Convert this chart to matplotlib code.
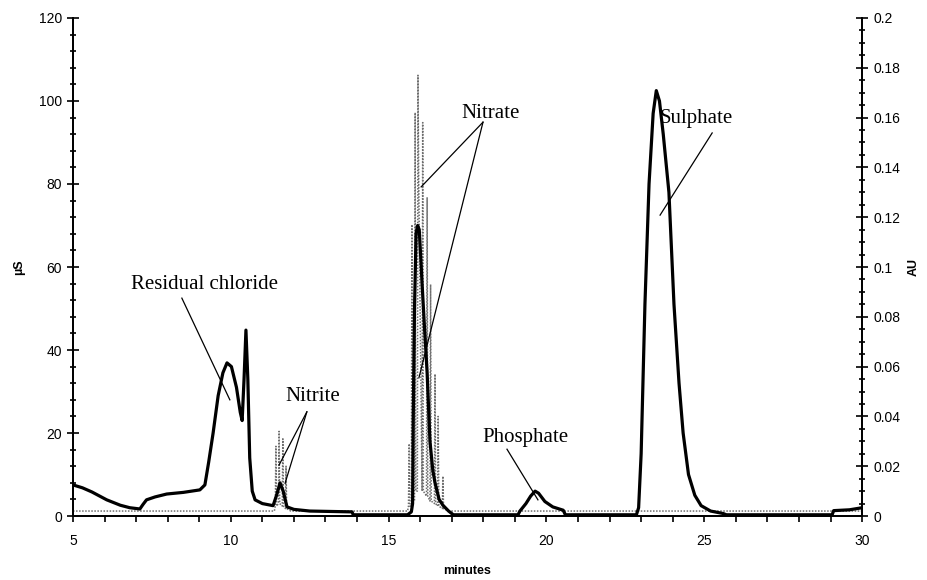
import matplotlib
matplotlib.use("Agg")
import matplotlib.pyplot as plt
from matplotlib.ticker import MultipleLocator, FuncFormatter

# conductivity trace (uS)
cond_t = [5.0, 5.3, 5.6, 6.07, 6.5, 6.8, 7.12, 7.22, 7.33, 7.6, 7.97, 8.5, 9.02,
          9.18, 9.3, 9.44, 9.6, 9.75, 9.88, 10.02, 10.18, 10.3, 10.36, 10.42,
          10.48, 10.54, 10.6, 10.68, 10.77, 11.0, 11.34, 11.45, 11.56, 11.66,
          11.78, 12.0, 12.5, 13.84, 13.88, 15.6, 15.72, 15.76, 15.78, 15.82,
          15.87, 15.92, 15.97, 16.02, 16.06, 16.14, 16.22, 16.31, 16.4, 16.47,
          16.6, 16.72, 16.9, 17.05, 19.1, 19.16, 19.35, 19.5, 19.64, 19.75,
          19.95, 20.2, 20.53, 20.6, 22.85, 22.92, 23.0, 23.12, 23.25, 23.38,
          23.48, 23.58, 23.7, 23.88, 24.04, 24.2, 24.33, 24.5, 24.7, 24.9,
          25.2, 25.6, 25.7, 29.05, 29.1, 29.6, 30.0]
cond_v = [7.5, 6.8, 5.8, 3.9, 2.6, 2.0, 1.7, 2.8, 3.9, 4.6, 5.3, 5.7, 6.3,
          7.5, 13, 20, 29, 34.5, 36.9, 36, 31, 25, 23, 33,
          44.8, 33, 14, 6, 3.9, 3.0, 2.5, 5, 8, 6,
          2.2, 1.6, 1.2, 1.0, 0.3, 0.3, 1, 3, 23, 50,
          68, 70, 69, 62, 56, 45, 34.5, 18, 11, 8,
          4, 2.6, 1.2, 0.3, 0.3, 1.2, 3, 4.8, 6, 5.5,
          3.5, 2.2, 1.4, 0.3, 0.3, 2, 15, 51, 80, 97,
          102.5, 100, 92, 78, 51, 32, 20, 10, 5, 2.5,
          1.2, 0.6, 0.3, 0.3, 1.3, 1.5, 2.0]

# UV trace (AU), dotted
uv_t = [5.0, 11.38, 11.41, 11.43, 11.45, 11.51, 11.53, 11.55, 11.63, 11.65,
        11.67, 11.73, 11.75, 11.77, 11.9, 15.6, 15.63, 15.65, 15.67, 15.72,
        15.74, 15.76, 15.82, 15.84, 15.86, 15.91, 15.93, 15.95, 16.06, 16.08,
        16.1, 16.2, 16.22, 16.24, 16.31, 16.33, 16.35, 16.45, 16.47, 16.49,
        16.55, 16.57, 16.59, 16.7, 16.72, 16.74, 16.9, 30.0]
uv_v = [0.002, 0.002, 0.004, 0.028, 0.004, 0.005, 0.034, 0.005, 0.004, 0.031,
        0.004, 0.003, 0.020, 0.003, 0.002, 0.002, 0.004, 0.029, 0.004, 0.004,
        0.117, 0.006, 0.006, 0.162, 0.01, 0.01, 0.177, 0.14, 0.01, 0.158,
        0.01, 0.008, 0.128, 0.008, 0.006, 0.093, 0.006, 0.005, 0.057, 0.005,
        0.004, 0.040, 0.004, 0.003, 0.016, 0.003, 0.002, 0.002]

# peak labels: text, text centre (min, uS), leader start, leader ends
labels = ["Residual chloride", "Nitrite", "Nitrate", "Phosphate", "Sulphate"]
label_pos = [(9.18, 55.7), (12.6, 28.7), (18.24, 97.1), (19.32, 19.0), (24.74, 95.9)]
leader_start = [(8.45, 52.5), (12.41, 25.1), (17.99, 94.9), (18.75, 16.1), (25.25, 92.3)]
leader_ends = [[(9.97, 28.0)],
               [(11.53, 12.3), (11.72, 7.9)],
               [(16.03, 79.3), (15.96, 33.3)],
               [(19.73, 3.9)],
               [(23.6, 72.5)]]

serif = "Liberation Serif"
sans = "Liberation Sans"

fig = plt.figure(figsize=(9.27, 5.8), dpi=100)
ax = fig.add_axes([0.0787, 0.1103, 0.8513, 0.8587])
ax2 = ax.twinx()

ax2.plot(uv_t, uv_v, color="#6e6e6e", linestyle=(0, (1, 1)), linewidth=1.1)
ax.plot(cond_t, cond_v, color="black", linewidth=2.3, zorder=5)
ax.set_zorder(ax2.get_zorder() + 1)
ax.patch.set_visible(False)

ax.set_xlim(5, 30)
ax.set_ylim(0, 120)
ax2.set_ylim(0, 0.2)

for a in (ax, ax2):
    a.spines["top"].set_visible(False)
    for s in a.spines.values():
        s.set_linewidth(1.3)

ax.xaxis.set_major_locator(MultipleLocator(5))
ax.xaxis.set_minor_locator(MultipleLocator(1))
ax.yaxis.set_major_locator(MultipleLocator(20))
ax.yaxis.set_minor_locator(MultipleLocator(4))
ax2.yaxis.set_major_locator(MultipleLocator(0.02))
ax2.yaxis.set_minor_locator(MultipleLocator(0.005))
ax2.yaxis.set_major_formatter(FuncFormatter(lambda v, p: "%g" % round(v, 3)))

ax.tick_params(axis="x", which="both", direction="out", length=4, width=1.2,
               pad=9, labelsize=10)
ax.tick_params(axis="y", which="major", direction="inout", length=8, width=1.2,
               pad=4, labelsize=10)
ax.tick_params(axis="y", which="minor", direction="inout", length=5, width=1.2)
ax2.tick_params(axis="y", which="major", direction="inout", length=8, width=1.2,
                pad=4, labelsize=10)
ax2.tick_params(axis="y", which="minor", direction="inout", length=5, width=1.2)
for lab in ax.get_xticklabels() + ax.get_yticklabels() + ax2.get_yticklabels():
    lab.set_fontfamily(sans)

ax.set_xlabel("minutes", fontfamily=sans, fontweight="bold", fontsize=9, labelpad=12)
ax.set_ylabel("\u00b5S", fontfamily=sans, fontweight="bold", fontsize=9, labelpad=10)
ax2.set_ylabel("AU", fontfamily=sans, fontweight="bold", fontsize=9,
               rotation=90, labelpad=5)

for text, pos in zip(labels, label_pos):
    ax.text(pos[0], pos[1], text, fontfamily=serif, fontsize=15,
            ha="center", va="center", zorder=6)
for start, ends in zip(leader_start, leader_ends):
    for end in ends:
        ax.plot([start[0], end[0]], [start[1], end[1]], color="black",
                linewidth=0.9, zorder=6)

fig.savefig("out.png", dpi=100)
